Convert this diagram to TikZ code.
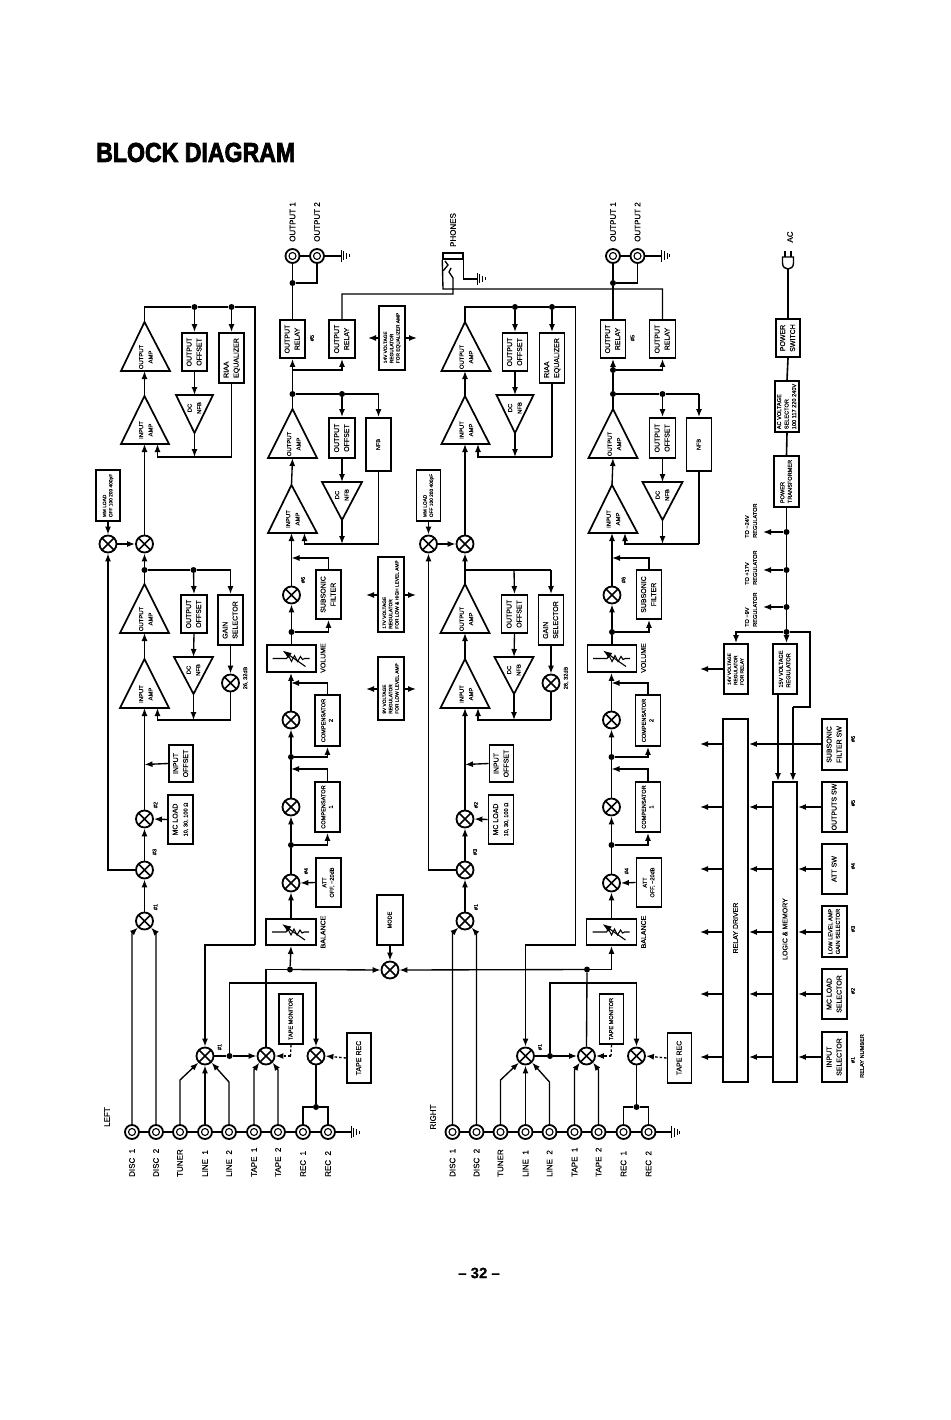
\documentclass[tikz,border=0pt]{standalone}
\usepackage{fontspec}
\usepackage{graphicx}
\setmainfont[FakeBold=0.35]{Liberation Sans}
\newfontfamily\titlef[FakeBold=3]{Liberation Sans Bold}
\usetikzlibrary{arrows.meta,calc}
\tikzset{
 wire/.style={line width=1.35pt},
 arr/.style={wire,-{Latex[length=8pt,width=6pt]}},
 dashw/.style={wire,dash pattern=on 2.5pt off 2pt},
 bx/.style={draw,line width=1.8pt,fill=white,inner sep=0pt},
 tri/.style={draw,line width=1.7pt,fill=white,line join=miter},
 dot/.style={circle,fill,inner sep=0pt,minimum size=6pt},
 nodot/.style={inner sep=0pt,minimum size=0pt},
 mix/.style={circle,draw,line width=1.8pt,fill=white,inner sep=0pt,minimum size=17pt,
  path picture={\draw[line width=1.5pt] (path picture bounding box.north west)--(path picture bounding box.south east) (path picture bounding box.north east)--(path picture bounding box.south west);}},
 jack/.style={circle,draw,line width=1.8pt,fill=white,inner sep=0pt,minimum size=14pt,
  path picture={\draw[line width=1.1pt] (path picture bounding box.center) circle (3.5pt);}},
 rot/.style={rotate=90,inner sep=0pt},
 ftb/.style={font=\fontsize{8}{10}\selectfont},
 fts/.style={font=\fontsize{7}{10}\selectfont},
 fta/.style={font=\fontsize{5.9}{9.5}\selectfont},
 ftm/.style={font=\fontsize{5.6}{7.5}\selectfont},
 ftt/.style={font=\fontsize{4.8}{6.3}\selectfont},
}
\newcommand\rt[1]{\rotatebox{90}{\begin{tabular}{@{}c@{}}#1\end{tabular}}}
\newcommand\rl[1]{\rotatebox{90}{\begin{tabular}{@{}l@{}}#1\end{tabular}}}
\newcommand\Bx[7][fts]{%
 \pgfmathsetmacro\bxw{#5-#3}\pgfmathsetmacro\bxh{#6-#4}%
 \pgfmathsetmacro\bxx{(#3+#5)/2}\pgfmathsetmacro\bxy{(#4+#6)/2}%
 \node[bx,#1,minimum width=\bxw pt,minimum height=\bxh pt] (#2) at (\bxx,\bxy) {#7};}
% up-pointing amp: name, apex x, apex y, left, right, base y, text
\newcommand\AmpUp[7]{%
 \coordinate (#1-a) at (#2,#3); \coordinate (#1-b) at (#2,#6); \coordinate (#1-f) at ($(#2,#6)+(13,0)$);
 \draw[tri] (#2,#3) -- (#4,#6) -- (#5,#6) -- cycle;
 \node[fta,inner sep=0pt] (#1-t) at ($(#2,#6)+(1.5,-14)$) {\rt{#7}};}
% down-pointing amp: name, left, right, top y, apex x, apex y
\newcommand\AmpDn[6]{%
 \coordinate (#1-a) at (#5,#6); \coordinate (#1-b) at (#5,#4);
 \draw[tri] (#2,#4) -- (#3,#4) -- (#5,#6) -- cycle;
 \node[fta,inner sep=0pt] (#1-t) at ($(#5,#4)+(0,13)$) {\rt{DC\\NFB}};}
\newcommand\Lb[5][ftb]{\node[rot,#1] (#2) at (#3,#4) {#5};}
\newcommand\Gnd[3]{\coordinate (#1) at (#2,#3);
 \draw[line width=1pt] (#2,#3-6) -- (#2,#3+6) ($(#2,#3)+(2.8,-4.5)$) -- ($(#2,#3)+(2.8,4.5)$) ($(#2,#3)+(5.6,-3)$) -- ($(#2,#3)+(5.6,3)$) ($(#2,#3)+(8.4,-1.5)$) -- ($(#2,#3)+(8.4,1.5)$);}
\newcommand\Pot[5]{\Bx{#1}{#2}{#3}{#4}{#5}{}
 \begin{scope}[shift={(#1.center)}]
 \draw[line width=1.1pt] (-19,0) -- (-5,0) -- (-3,-3) -- (0,3) -- (3,-3) -- (6,3) -- (9,-2) -- (11,1) -- (13,0) -- (18,0);
 \draw[line width=1.1pt,-{Latex[length=9pt,width=6.5pt]}] (14,8) -- (-9,-8);
 \end{scope}}
\newcommand\Chan[4]{\begin{scope}[xshift=#2pt]
 % output section
 \node[jack] (#1oj1) at (292.5,256) {};
 \node[jack] (#1oj2) at (317,256) {};
 \Gnd{#1og}{341}{256}
 \draw[wire] (#1oj1) -- (#1oj2) -- (#1og);
 \Lb{#1to1}{292.5}{222}{OUTPUT 1}
 \Lb{#1to2}{317}{222}{OUTPUT 2}
 \node[dot] (#1oc) at (292.5,283) {};
 \draw[wire] (#1oj1.south) -- (#1oc);
 \draw[wire] (#1oc) -| (#1oj2.south);
 \Bx{#1r1}{280}{320}{305}{358}{\rt{OUTPUT\\RELAY}}
 \Bx{#1r2}{329}{320}{355}{358}{\rt{OUTPUT\\RELAY}}
 \Lb[ftm]{#1n5}{312}{338}{\#5}
 \draw[wire,line width=1.6pt] (#1r1.north) -- (#1oc);
 % phono output amp stage
 \AmpUp{#1oa}{144.5}{322}{121}{170}{371}{OUTPUT\\AMP}
 \AmpUp{#1ia}{144.5}{396}{121}{169}{444}{INPUT\\AMP}
 \Bx{#1of}{182}{333}{207}{371}{\rt{OUTPUT\\OFFSET}}
 \Bx{#1ri}{219}{333}{244}{383}{\rl{RIAA\\EQUALIZER}}
 \AmpDn{#1dc}{176}{213}{395}{194.5}{433}
 \node[dot] (#1t1) at (194.5,307) {};
 \node[dot] (#1t2) at (231.5,307) {};
 \coordinate (#1c) at (255,307);
 \coordinate (#1d) at (255,945);
 \draw[wire] (#1oa-a) |- (#1t1) -- (#1t2) -- (#1c) -- (#1d);
 \draw[arr] (#1t1) -- (#1of.north);
 \draw[arr] (#1t2) -- (#1ri.north);
 \draw[arr] (#1of.south) -- (#1dc-b);
 \draw[arr] (#1ia-a) -- (#1oa-b);
 \coordinate (#1fb) at (231.5,457);
 \coordinate (#1fa) at (194.5,457);
 \draw[wire] (#1ri.south) -- (#1fb);
 \draw[arr] (#1dc-a) -- (#1fa);
 \draw[arr] (#1fb) -| (#1ia-f);
 % MM load and mixers
 \Bx[ftt]{#1mm}{96}{470}{120}{521}{\rl{MM LOAD\\OFF 100 200 400pF}}
 \node[mix] (#1mx) at (108,544) {};
 \node[mix] (#1my) at (144.5,544) {};
 \draw[arr] (#1mm.south) -- (#1mx.north);
 \draw[arr] (#1mx.east) -- (#1my.west);
 \draw[arr] (#1my.north) -- (#1ia-b);
 % MC head amp stage
 \AmpUp{#1oc2}{144.5}{584}{120}{169}{633}{OUTPUT\\AMP}
 \AmpUp{#1ic2}{144.5}{659}{120}{169}{708}{INPUT\\AMP}
 \node[#3] (#1u0) at (144.5,570) {};
 \node[#3] (#1u1) at (193.5,570) {};
 \coordinate (#1u2) at (230.5,570);
 \Bx{#1of2}{181}{595}{207}{633}{\rt{OUTPUT\\OFFSET}}
 \Bx{#1gs}{218}{595}{243}{645}{\rl{GAIN\\SELECTOR}}
 \AmpDn{#1dc2}{174}{213}{657}{193.5}{694}
 \draw[wire] (#1oc2-a) -- (#1u0);
 \draw[arr] (#1u0) -- (#1my.south);
 \draw[wire] (#1u0) -- (#1u1) -- (#1u2);
 \draw[arr] (#1u1) -- (#1of2.north);
 \draw[arr] (#1u2) -- (#1gs.north);
 \draw[arr] (#1of2.south) -- (#1dc2-b);
 \draw[arr] (#1ic2-a) -- (#1oc2-b);
 \node[mix] (#1mg) at (230.5,683) {};
 \draw[arr] (#1gs.south) -- (#1mg.north);
 \Lb[ftm]{#1tg}{245.5}{678}{26, 32dB}
 \coordinate (#1gb) at (230.5,720);
 \coordinate (#1ga) at (193.5,720);
 \draw[wire] (#1mg.south) -- (#1gb);
 \draw[arr] (#1dc2-a) -- (#1ga);
 \draw[arr] (#1gb) -| (#1ic2-f);
 \node[mix] (#1m2) at (144.5,819) {};
 \draw[arr] (#1m2.north) -- (#1ic2-b);
 \Bx{#1io}{169}{745}{193}{782}{\rt{INPUT\\OFFSET}}
 \coordinate (#1ioj) at (144.5,764.5);
 \draw[arr] (#1io.west) -- (#1ioj);
 \Bx[fts]{#1mc}{168}{795}{193}{844}{\rt{MC LOAD\\{\fontsize{5.6}{7}\selectfont 10, 30, 100 Ω}}}
 \draw[arr] (#1mc.west) -- (#1m2.east);
 \Lb[ftm]{#1n2}{155.5}{805}{\#2}
 \Lb[ftm]{#1n3}{154.5}{852}{\#3}
 \node[mix] (#1m3) at (144.5,870) {};
 \node[mix] (#1m1) at (144.5,921) {};
 \Lb[ftm]{#1n1}{155.5}{907}{\#1}
 \draw[arr] (#1m3.north) -- (#1m2.south);
 \draw[arr] (#1m1.north) -- (#1m3.south);
 \draw[arr] (#1m3.west) -| (#1mx.south);
 % line section
 \node[mix] (#1sa) at (205,1056) {};
 \node[mix] (#1mb) at (266,1056) {};
 \node[mix] (#1mc3) at (316,1056) {};
 \Lb[ftm]{#1ns}{219.5}{1047}{\#1}
 \draw[arr] (#1d) -| (#1sa.north);
 \node[dot] (#1js) at (229.5,1056) {};
 \draw[wire] (#1sa.east) -- (#1js);
 \draw[arr] (#1js) -- (#1mb.west);
 \coordinate (#1rt) at (316,983);
 \draw[arr] (#1js) |- (#1rt) -- (#1mc3.north);
 \Bx[ftm]{#1tm}{279}{994}{303}{1044}{\rt{TAPE MONITOR}}
 \coordinate (#1tmb) at (290.5,1056);
 \draw[dashw] (#1tm.south) -- (#1tmb);
 \draw[dashw,-{Latex[length=8pt,width=6pt]}] (#1tmb) -- (#1mb.east);
 \Bx{#1tr}{347}{1033}{371}{1083}{\rt{TAPE REC}}
 \draw[dashw,-{Latex[length=8pt,width=6pt]}] (#1tr.west) -- (#1mc3.east);
 % input jacks
 \node[jack] (#1j1) at (132,1132) {};
 \node[jack] (#1j2) at (156,1132) {};
 \node[jack] (#1j3) at (180,1132) {};
 \node[jack] (#1j4) at (205,1132) {};
 \node[jack] (#1j5) at (229,1132) {};
 \node[jack] (#1j6) at (254,1132) {};
 \node[jack] (#1j7) at (278,1132) {};
 \node[jack] (#1j8) at (303,1132) {};
 \node[jack] (#1j9) at (328,1132) {};
 \Gnd{#1ig}{351}{1132}
 \draw[wire] (#1j1) -- (#1j2) -- (#1j3) -- (#1j4) -- (#1j5) -- (#1j6) -- (#1j7) -- (#1j8) -- (#1j9) -- (#1ig);
 \coordinate (#1w1) at (132,933); \coordinate (#1w2) at (156,933);
 \coordinate (#1w3) at (180,1080); \coordinate (#1w5) at (229,1082);
 \coordinate (#1w6) at (254,1070); \coordinate (#1w7) at (278,1070);
 \draw[arr] (#1j1.north) -- (#1w1) -- (#1m1.225);
 \draw[arr] (#1j2.north) -- (#1w2) -- (#1m1.315);
 \draw[arr] (#1j3.north) -- (#1w3) -- (#1sa.225);
 \draw[arr] (#1j4.north) -- (#1sa.south);
 \draw[arr] (#1j5.north) -- (#1w5) -- (#1sa.315);
 \draw[arr] (#1j6.north) -- (#1w6) -- (#1mb.225);
 \draw[arr] (#1j7.north) -- (#1w7) -- (#1mb.315);
 \node[dot] (#1rj) at (316,1107) {};
 \draw[wire] (#1mc3.south) -- (#1rj);
 \draw[wire] (#1j8.north) |- (#1rj);
 \draw[wire] (#1j9.north) |- (#1rj);
 \node[rot,ftb,anchor=west] (#1tj1) at (132,1177) {DISC\ \ 1};
 \node[rot,ftb,anchor=west] (#1tj2) at (156,1177) {DISC\ \ 2};
 \node[rot,ftb,anchor=west] (#1tj3) at (180,1177) {TUNER};
 \node[rot,ftb,anchor=west] (#1tj4) at (205,1177) {LINE\ \ 1};
 \node[rot,ftb,anchor=west] (#1tj5) at (229,1177) {LINE\ \ 2};
 \node[rot,ftb,anchor=west] (#1tj6) at (254,1177) {TAPE\ \ 1};
 \node[rot,ftb,anchor=west] (#1tj7) at (278,1177) {TAPE\ \ 2};
 \node[rot,ftb,anchor=west] (#1tj8) at (303,1177) {REC\ \ 1};
 \node[rot,ftb,anchor=west] (#1tj9) at (328,1177) {REC\ \ 2};
 % tone / level section
 \Pot{#1bal}{266}{919}{316}{945}
 \Lb[fts]{#1tb}{323}{932}{BALANCE}
 \node[mix] (#1at) at (291,883) {};
 \Bx[ftm]{#1att}{316}{858}{341}{907}{\rt{ATT\\OFF, −20dB}}
 \Lb[ftm]{#1n4}{306}{871}{\#4}
 \draw[arr] (#1bal.north) -- (#1at.south);
 \draw[arr] (#1att.west) -- (#1at.east);
 \node[dot] (#1k1) at (291,845) {};
 \draw[wire] (#1at.north) -- (#1k1);
 \node[mix] (#1c1) at (291,807) {};
 \draw[arr] (#1k1) -- (#1c1.south);
 \Bx[ftm]{#1cp1}{315}{782}{340}{832}{\rt{COMPENSATOR\\1}}
 \draw[arr] (#1k1) -| (#1cp1.south);
 \node[dot] (#1k2) at (291,757) {};
 \draw[wire] (#1c1.north) -- (#1k2);
 \coordinate (#1k2a) at (291,769);
 \draw[arr] (#1cp1.north) |- (#1k2a);
 \node[mix] (#1c2) at (291,720) {};
 \draw[arr] (#1k2) -- (#1c2.south);
 \Bx[ftm]{#1cp2}{315}{695}{340}{746}{\rt{COMPENSATOR\\2}}
 \draw[arr] (#1k2) -| (#1cp2.south);
 \Pot{#1vol}{267}{645}{316}{672}
 \Lb[fts]{#1tv}{323}{658}{VOLUME}
 \coordinate (#1k3a) at (291,683);
 \draw[arr] (#1c2.north) -- (#1c2.north |- #1vol.south);
 \draw[arr] (#1cp2.north) |- (#1k3a);
 \node[dot] (#1k4) at (291.5,632) {};
 \draw[wire] (#1k4 |- #1vol.north) -- (#1k4);
 \node[mix] (#1c6) at (291.5,595) {};
 \draw[arr] (#1k4) -- (#1c6.south);
 \Lb[ftm]{#1n6}{303}{580}{\#6}
 \Bx{#1ss}{316}{570}{341}{619}{\rt{SUBSONIC\\FILTER}}
 \draw[arr] (#1k4) -| (#1ss.south);
 % main amp
 \AmpUp{#1ib}{291.5}{485}{268}{317}{533}{INPUT\\AMP}
 \AmpUp{#1ob}{292.5}{409}{268}{317}{458}{OUTPUT\\AMP}
 \coordinate (#1k5) at (291.5,558);
 \draw[arr] (#1c6.north) -- (#1ib-b);
 \draw[arr] (#1ss.north) |- (#1k5);
 \draw[arr] (#1ib-a) -- (#1ob-b);
 \node[dot] (#1q1) at (292.5,394) {};
 \node[dot] (#1q2) at (342,394) {};
 \coordinate (#1q3) at (378.5,394);
 \node[#4] (#1q0) at (292.5,370) {};
 \draw[wire] (#1ob-a) -- (#1q1) -- (#1q0);
 \draw[arr] (#1q0) -- (#1r1.south);
 \draw[arr] (#1q0) -| (#1r2.south);
 \draw[wire] (#1q1) -- (#1q2) -- (#1q3);
 \Bx{#1of3}{329}{418}{355}{458}{\rt{OUTPUT\\OFFSET}}
 \Bx[ftm]{#1nf}{366}{418}{391}{471}{\rt{NFB}}
 \draw[arr] (#1q2) -- (#1of3.north);
 \draw[arr] (#1q3) -- (#1nf.north);
 \AmpDn{#1dc3}{322}{362}{482}{342}{520}
 \draw[arr] (#1of3.south) -- (#1dc3-b);
 \coordinate (#1fn) at (378.5,544);
 \coordinate (#1fd) at (342,544);
 \draw[wire] (#1nf.south) -- (#1fn);
 \draw[arr] (#1dc3-a) -- (#1fd);
 \draw[arr] (#1fn) -| (#1ib-f);
\end{scope}}
\begin{document}
\begin{tikzpicture}[x=1pt,y=-1pt]
\useasboundingbox (0,0) rectangle (950,1420);
\node[anchor=west,inner sep=0pt] (title) at (96,152.5) {\resizebox{199pt}{19pt}{\titlef BLOCK DIAGRAM}};
\node[inner sep=0pt,font=\bfseries\fontsize{15}{16}\selectfont] (page) at (479,1273) {– 32 –};

\Chan{l}{0}{dot}{nodot}
\Chan{r}{320.5}{nodot}{dot}

\Lb{tleft}{107}{1117}{LEFT}
\Lb{tright}{433}{1117}{RIGHT}

% mode
\Bx[ftm]{mode}{377}{895}{403}{945}{\rt{MODE}}
\node[mix] (mm) at (390,970) {};
\draw[arr] (mode.south) -- (mm.north);
\node[dot] (lhub) at (290,969.5) {};
\node[dot] (rhub) at (587,969.5) {};
\draw[wire] (lmb.north) |- (lhub);
\draw[wire] (rmb.north) -- (rhub);
\draw[arr] (lhub) -- (lbal.south);
\draw[arr] (rhub) -| (rbal.south);
\draw[arr] (lhub) -- (mm.west);
\draw[arr] (rhub) -- (mm.east);

% regulators
\Bx[ftt]{reg14a}{379}{306}{405}{370}{\rl{14V VOLTAGE\\REGULATOR\\FOR EQUALIZER AMP}}
\Bx[ftt]{reg17}{378}{557}{404}{632}{\rl{17V VOLTAGE\\REGULATOR\\FOR LOW \& HIGH LEVEL AMP}}
\Bx[ftt]{reg9}{378}{657}{404}{720}{\rl{9V VOLTAGE\\REGULATOR\\FOR LOW LEVEL AMP}}
\coordinate (a1) at (368,338); \coordinate (a2) at (417,338);
\coordinate (a3) at (366,595); \coordinate (a4) at (416,595);
\coordinate (a5) at (366,689); \coordinate (a6) at (416,689);
\draw[arr] (reg14a.west |- a1) -- (a1);
\draw[arr] (reg14a.east |- a2) -- (a2);
\draw[arr] (reg17.west |- a3) -- (a3);
\draw[arr] (reg17.east |- a4) -- (a4);
\draw[arr] (reg9.west |- a5) -- (a5);
\draw[arr] (reg9.east |- a6) -- (a6);

% phones
\node[draw,line width=1.5pt,inner sep=0pt,minimum width=20pt,minimum height=6pt] (phj) at (453,256) {};
\Lb[ftb]{tph}{453}{230}{PHONES}
\coordinate (phr) at (463,279);
\Gnd{phg}{477}{279}
\draw[wire] (phj.south east) |- (phg);
\coordinate (phs) at (443,289);
\coordinate (phc) at (453,278);
\draw[wire] (lr2.north) |- (453,294) -- (phc) -- (449,272) -- (451,268);
\draw[wire] (rr2.north) |- (phs) -- (phj.south west);
\draw[wire] (443,271) -- (448,265) -- (445,261);

% power
\draw[line width=1.4pt,fill=white] (782.5,257) -- (793.5,257) -- (793.5,263) .. controls (793.5,271) and (782.5,271) .. (782.5,263) -- cycle;
\draw[line width=1.4pt] (785,251) -- (785,257) (791,251) -- (791,257);
\coordinate (plg) at (788,269);
\Lb{tac}{790}{237}{AC}
\Bx{psw}{776}{319}{800}{357}{\rt{POWER\\SWITCH}}
\Bx[ftm]{acv}{775}{381}{799}{432}{\rl{AC VOLTAGE\\SELECTOR\\100 117 220 240V}}
\Bx[ftm]{ptr}{774}{456}{799}{507}{\rl{POWER\\TRANSFORMER}}
\draw[wire] (plg) -- (plg |- psw.north);
\draw[wire,line width=1.6pt] (psw.south) -- (acv.north);
\draw[wire,line width=1.6pt] (acv.south) -- (ptr.north);
\node[dot] (pj1) at (786.5,532) {};
\node[dot] (pj2) at (786.5,570) {};
\node[dot] (pj3) at (786.5,607) {};
\node[dot] (pj4) at (786.5,632) {};
\draw[wire] (ptr.south) -- (pj1) -- (pj2) -- (pj3) -- (pj4);
\coordinate (po1) at (763,532); \coordinate (po2) at (763,570); \coordinate (po3) at (763,607);
\draw[arr] (pj1) -- (po1);
\draw[arr] (pj2) -- (po2);
\draw[arr] (pj3) -- (po3);
\node[rot,ftm,anchor=west] (t1a) at (747,538) {TO −24V};
\node[rot,ftm,anchor=west] (t1b) at (755,538) {REGULATOR};
\node[rot,ftm,anchor=west] (t2a) at (747,585) {TO +17V};
\node[rot,ftm,anchor=west] (t2b) at (755,585) {REGULATOR};
\node[rot,ftm,anchor=west] (t3a) at (747,627) {TO −9V};
\node[rot,ftm,anchor=west] (t3b) at (755,627) {REGULATOR};
\Bx[ftt]{reg14}{724}{644}{748}{694}{\rl{14V VOLTAGE\\REGULATOR\\FOR RELAY}}
\Bx[ftm]{reg15}{773}{644}{797}{694}{\rl{15V VOLTAGE\\REGULATOR}}
\draw[arr] (pj4) -| (reg14.north);
\draw[arr] (pj4) -- (pj4 |- reg15.north);
\coordinate (r14o) at (700,669);
\draw[arr] (reg14.west) -- (r14o);
\Bx{rd}{723}{719}{748}{1082}{}
\Bx{lg}{773}{782}{797}{1082}{}
\node[rot,fts] (trd) at (735.5,928) {RELAY DRIVER};
\node[rot,fts] (tlg) at (785,929) {LOGIC \& MEMORY};
\coordinate (pca) at (810,707); \coordinate (pcb) at (793,707);
\draw[wire] (pj4) -| (pca) -- (pcb);
\draw[arr] (pcb) -- (pcb |- lg.north);
\coordinate (r15o) at (778,694);
\draw[arr] (r15o) -- (r15o |- lg.north);
\Bx{sw6}{822}{719}{847}{770}{\rt{SUBSONIC\\FILTER SW}}
\Bx{sw5}{822}{782}{847}{832}{\rt{OUTPUTS SW}}
\Bx{sw4}{822}{844}{847}{894}{\rt{ATT SW}}
\Bx[ftm]{sw3}{822}{906}{847}{957}{\rt{LOW LEVEL AMP\\GAIN SELECTOR}}
\Bx{sw2}{822}{969}{847}{1019}{\rt{MC LOAD\\SELECTOR}}
\Bx{sw1}{822}{1032}{847}{1082}{\rt{INPUT\\SELECTOR}}
\foreach \i/\y in {1/1057,2/994,3/932,4/869,5/807,6/744}{
 \coordinate (ro\i) at (700,\y);
 \draw[arr] (rd.west |- ro\i) -- (ro\i);
}
\foreach \i in {1,2,3,4,5}{
 \draw[arr] (lg.west |- ro\i) -- (rd.east |- ro\i);
 \draw[arr] (sw\i.west |- ro\i) -- (lg.east |- ro\i);
}
\draw[arr] (sw6.west |- ro6) -- (rd.east |- ro6);
\Lb[ftm]{ns6}{853}{739}{\#6}
\Lb[ftm]{ns5}{853}{803}{\#5}
\Lb[ftm]{ns4}{853}{866}{\#4}
\Lb[ftm]{ns3}{853}{929}{\#3}
\Lb[ftm]{ns2}{853}{991}{\#2}
\Lb[ftm]{ns1}{853}{1060}{\#1}
\Lb[ftm]{trn}{862}{1056}{RELAY NUMBER}
\end{tikzpicture}
\end{document}
